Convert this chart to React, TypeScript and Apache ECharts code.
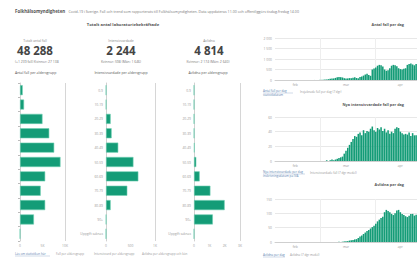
import React, { useEffect, useRef } from "react";
import * as echarts from "echarts";

const ageGroups = ["0-9", "10-19", "20-29", "30-39", "40-49", "50-59", "60-69", "70-79", "80-89", "90+", "Uppgift saknas"];
const casesByAge = [600, 900, 5000, 6500, 7600, 9000, 5600, 4600, 5600, 3100, 20];
const icuByAge = [3, 5, 95, 115, 250, 560, 660, 435, 95, 4, 0];
const deathsByAge = [1, 1, 5, 10, 40, 150, 370, 1070, 2000, 1230, 0];

const startDate = "2020-02-04";
const casesPerDay = [
  1, 0, 0, 0, 0, 0, 0, 0, 0, 0, 0, 0, 0, 0, 0, 0, 0, 0, 0, 0, 0, 1, 2, 3, 4, 6,
  8, 12, 18, 25, 40, 60, 70, 75, 100, 130, 140, 135, 120, 85, 70, 75, 90, 85, 110, 130, 95, 80, 140, 170, 210, 260, 300, 240, 200, 500, 550,
  600, 680, 720, 700, 640, 500, 440, 460, 560, 680, 720, 700, 650, 560, 520, 500, 540, 560, 720, 760, 780, 740, 700, 760,
];
const icuPerDay = [
  0, 0, 0, 0, 0, 0, 0, 0, 0, 0, 0, 0, 0, 0, 0, 0, 0, 0, 0, 0, 0, 0, 0, 0, 0, 0,
  0, 0, 0, 1, 0, 1, 2, 1, 2, 3, 4, 5, 6, 10, 14, 18, 22, 26, 30, 34, 33, 37, 39, 35, 42, 38, 41, 40, 44, 47, 42,
  40, 45, 43, 46, 41, 44, 39, 42, 37, 40, 38, 44, 46, 45, 40, 38, 36, 37, 36, 39, 34, 38, 35, 35,
];
const deathsPerDay = [
  0, 0, 0, 0, 0, 0, 0, 0, 0, 0, 0, 0, 0, 0, 0, 0, 0, 0, 0, 0, 0, 0, 0, 0, 0, 0,
  0, 0, 0, 0, 0, 0, 0, 0, 0, 0, 1, 0, 1, 2, 3, 3, 5, 6, 7, 9, 10, 14, 19, 23, 28, 33, 38, 42, 47, 52, 57,
  64, 72, 78, 84, 88, 104, 112, 108, 104, 98, 94, 100, 110, 112, 104, 98, 94, 90, 87, 92, 98, 98, 92, 95,
];
const monthNames = ["jan", "feb", "mar", "apr", "maj", "jun"];

const kpiLabels = ["Totalt antal fall", "Intensivvårdade", "Avlidna"];
const kpiValues = ["48 288", "2 244", "4 814"];
const kpiSub = ["(+1 239 fall) Kvinnor: 27 138", "Kvinnor: 598 (Män: 1 646)", "Kvinnor: 2 174 (Män: 2 640)"];
const sectionTitles = ["Antal fall per åldersgrupp", "Intensivvårdade per åldersgrupp", "Avlidna per åldersgrupp"];
const dayTitles = ["Antal fall per dag", "Nya intensivvårdade fall per dag", "Avlidna per dag"];

const GREEN = "#149c77";
const FONT = "Open Sans";

function makeDates(start: string, n: number): string[] {
  const out: string[] = [];
  const d = new Date(start + "T00:00:00Z");
  for (let i = 0; i < n; i++) {
    out.push(d.toISOString().slice(0, 10));
    d.setUTCDate(d.getUTCDate() + 1);
  }
  return out;
}

const fmtK = (v: number) => (v >= 1000 ? v / 1000 + "K" : String(v));
const fmtSpace = (v: number) => String(v).replace(/\B(?=(\d{3})+(?!\d))/g, " ");

export default function App() {
  const ref = useRef<HTMLDivElement>(null);
  useEffect(() => {
    if (!ref.current) return;
    const chart = echarts.init(ref.current, undefined, { renderer: "svg" });
    const dates = makeDates(startDate, casesPerDay.length);

    const hGrids = [
      { left: 20, width: 45 },
      { left: 106, width: 49 },
      { left: 194, width: 46 },
    ];
    const hMax = [10000, 1000, 3000];
    const hInt = [5000, 500, 1000];
    const hData = [casesByAge, icuByAge, deathsByAge];

    const vTops = [38, 117, 199];
    const vHeights = [42, 44, 43];
    const vMax = [2000, 60, 150];
    const vInt = [500, 20, 50];
    const vData = [casesPerDay, icuPerDay, deathsPerDay];

    const grids: any[] = [];
    const xAxes: any[] = [];
    const yAxes: any[] = [];
    const series: any[] = [];

    hGrids.forEach((g, i) => {
      grids.push({ left: g.left, width: g.width, top: 83, height: 158 });
      const nLines = hMax[i] / hInt[i] + 1;
      const colors = Array.from({ length: nLines }, (_, k) => (k === 0 || k === nLines - 1 ? "#d6d6d6" : "rgba(0,0,0,0)"));
      xAxes.push({
        type: "value", gridIndex: i, min: 0, max: hMax[i], interval: hInt[i],
        axisLine: { show: false }, axisTick: { show: false },
        splitLine: { show: true, lineStyle: { color: colors, width: 1 } },
        axisLabel: { fontSize: 3.3, color: "#999", margin: 3, formatter: fmtK, fontFamily: FONT },
      });
      yAxes.push({
        type: "category", gridIndex: i, data: ageGroups, inverse: true,
        axisLine: { show: true, lineStyle: { color: "#d0d0d0" } },
        axisTick: { show: i === 0, length: 2, lineStyle: { color: "#bbb" } },
        axisLabel: { show: i !== 0, fontSize: 3.3, color: "#999", margin: 3, fontFamily: FONT },
      });
      series.push({
        type: "bar", xAxisIndex: i, yAxisIndex: i, data: hData[i], barCategoryGap: "30%",
        itemStyle: { color: GREEN, borderColor: "#6fcfb1", borderWidth: 0.6 },
      });
    });

    vTops.forEach((top, j) => {
      const gi = 3 + j;
      grids.push({ left: 275, width: casesPerDay.length * 1.8, top, height: vHeights[j] });
      xAxes.push({
        type: "category", gridIndex: gi, data: dates,
        axisLine: { show: true, lineStyle: { color: "#cfcfcf" } },
        axisTick: { show: false },
        splitLine: { show: true, interval: (_i: number, v: string) => v.endsWith("-01"), lineStyle: { color: "#eeeeee" } },
        axisLabel: {
          fontSize: 3.3, color: "#999", margin: 3, fontFamily: FONT,
          interval: (_i: number, v: string) => v.endsWith("-15"),
          formatter: (v: string) => monthNames[parseInt(v.slice(5, 7), 10) - 1],
        },
      });
      yAxes.push({
        type: "value", gridIndex: gi, min: 0, max: vMax[j], interval: vInt[j],
        axisLine: { show: false }, axisTick: { show: false },
        splitLine: { show: true, lineStyle: { color: "#e8e8e8" } },
        axisLabel: { fontSize: 3.3, color: "#999", margin: 3, formatter: fmtSpace, fontFamily: FONT },
      });
      series.push({
        type: "bar", xAxisIndex: gi, yAxisIndex: gi, data: vData[j], barCategoryGap: "12%",
        itemStyle: { color: GREEN },
      });
    });

    const txt = (x: number, y: number, text: string, size: number, opts: any = {}) => ({
      type: "text", x, y, silent: true,
      style: {
        text, fontSize: size, fontFamily: FONT, fill: opts.fill || "#555",
        fontWeight: opts.bold ? "bold" : "normal",
        align: opts.align || "left", verticalAlign: "middle",
      },
    });
    const link = (x: number, y: number, text: string, w: number) => [
      txt(x, y, text, 3, { fill: "#5a7fb0" }),
      { type: "line", silent: true, shape: { x1: x, y1: y + 2, x2: x + w, y2: y + 2 }, style: { stroke: "#8aa3c6", lineWidth: 0.4 } },
    ];

    const kpiX = [35, 121, 209];
    const graphics: any[] = [
      {
        type: "text", x: 15, y: 11, silent: true,
        style: {
          text: "{b|Folkhälsomyndigheten} {n|Covid-19 i Sverige. Fall och trend som rapporterats till Folkhälsomyndigheten. Data uppdateras 11.00 och offentliggörs tisdag-fredag 14.00}",
          verticalAlign: "middle",
          rich: {
            b: { fontSize: 4.4, fontWeight: "bold", fill: "#555", fontFamily: FONT },
            n: { fontSize: 3.6, fill: "#777", fontFamily: FONT },
          },
        },
      },
      txt(123, 24, "Totalt antal laboratoriebekräftade", 4.2, { bold: true, align: "center", fill: "#555" }),
    ];
    kpiLabels.forEach((l, i) => {
      graphics.push(txt(kpiX[i], 40, l, 3.4, { align: "center", fill: "#888" }));
      graphics.push(txt(kpiX[i], 50.5, kpiValues[i], 11.5, { align: "center", bold: true, fill: "#444" }));
    });
    graphics.push(txt(15, 61, kpiSub[0], 3.4, { fill: "#777" }));
    graphics.push(txt(121, 61, kpiSub[1], 3.4, { fill: "#777", align: "center" }));
    graphics.push(txt(208, 61, kpiSub[2], 3.4, { fill: "#777", align: "center" }));
    graphics.push(txt(15, 72, sectionTitles[0], 3.5, { fill: "#555" }));
    graphics.push(txt(121, 72, sectionTitles[1], 3.5, { fill: "#555", align: "center" }));
    graphics.push(txt(208, 72, sectionTitles[2], 3.5, { fill: "#555", align: "center" }));

    const dayTitleY = [24, 104, 184];
    dayTitles.forEach((t, i) => graphics.push(txt(404, dayTitleY[i], t, 3.8, { bold: true, align: "right", fill: "#555" })));

    graphics.push(...link(15, 254, "Läs om statistiken här", 35));
    graphics.push(txt(56, 254, "Fall per åldersgrupp", 3, { fill: "#999" }));
    graphics.push(txt(94, 254, "Intensivvård per åldersgrupp", 3, { fill: "#999" }));
    graphics.push(txt(142, 254, "Avlidna per åldersgrupp och kön", 3, { fill: "#999" }));

    graphics.push(...link(263, 91, "Antal fall per dag", 30));
    graphics.push(txt(263, 95, "statistikdatum", 3, { fill: "#5a7fb0" }));
    graphics.push(txt(300, 92, "Insjuknade fall per dag (7 dgr)", 3, { fill: "#999" }));
    graphics.push(...link(263, 172, "Nya intensivvårdade per dag", 42));
    graphics.push(txt(263, 176, "inskrivningsdatum på IVA", 3, { fill: "#5a7fb0" }));
    graphics.push(txt(310, 173, "Intensivvårdade fall (7 dgr medel)", 3, { fill: "#999" }));
    graphics.push(...link(263, 255, "Avlidna per dag", 22));
    graphics.push(txt(290, 255, "Avlidna (7 dgr medel)", 3, { fill: "#999" }));

    chart.setOption({
      animation: false,
      textStyle: { fontFamily: FONT },
      grid: grids,
      xAxis: xAxes,
      yAxis: yAxes,
      series,
      graphic: graphics,
    });
    return () => chart.dispose();
  }, []);

  return (
    <div
      ref={ref}
      style={{ position: "fixed", left: 0, top: 0, width: 417, height: 258, background: "#ffffff", overflow: "hidden" }}
    />
  );
}
